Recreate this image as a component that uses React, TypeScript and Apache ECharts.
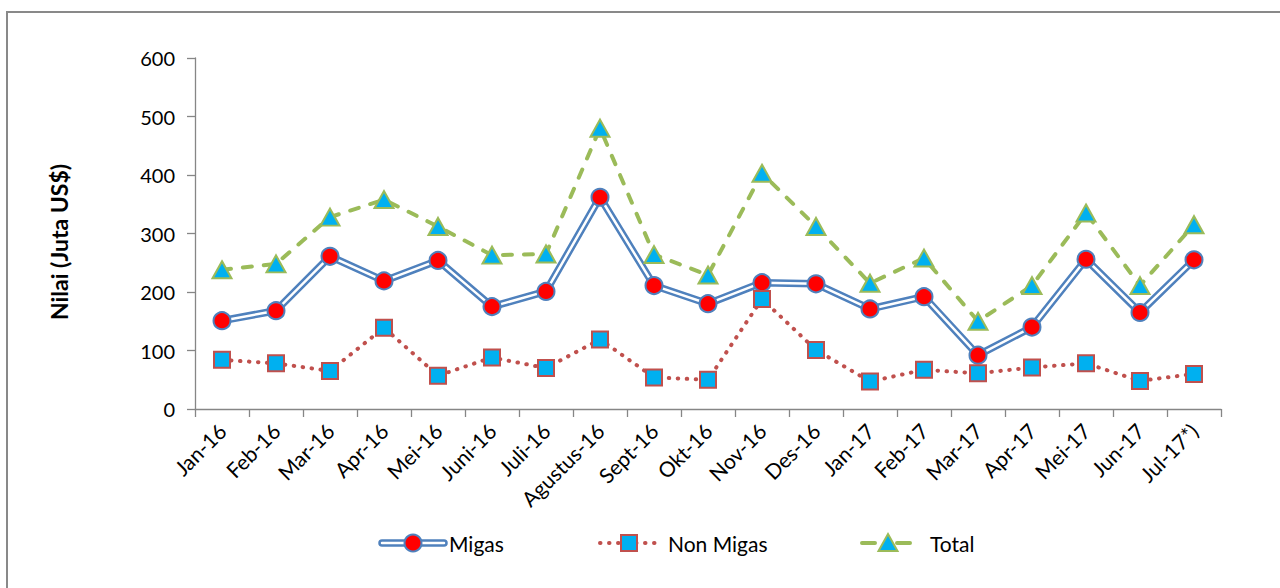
import React, { useEffect, useRef } from "react";
import * as echarts from "echarts";

const categories = [
  "Jan-16", "Feb-16", "Mar-16", "Apr-16", "Mei-16", "Juni-16", "Juli-16", "Agustus-16",
  "Sept-16", "Okt-16", "Nov-16", "Des-16", "Jan-17", "Feb-17", "Mar-17", "Apr-17",
  "Mei-17", "Jun-17", "Jul-17*)",
];
const migas = [151, 168, 261, 219, 254, 175, 201, 362, 211, 180, 216, 214, 171, 192, 92, 140, 256, 165, 255];
const nonMigas = [84, 78, 65, 139, 57, 88, 70, 119, 54, 50, 188, 101, 47, 67, 61, 71, 78, 48, 60];
const total = [238, 248, 328, 358, 312, 263, 265, 480, 264, 229, 403, 312, 215, 258, 150, 211, 335, 211, 315];

const yAxisName = "Nilai (Juta US$)";
const legendNames = ["Migas", "Non Migas", "Total"];

const FONT = "Lato";
const BLUE = "#4f81bd";
const RED = "#c0504d";
const GREEN = "#9bbb59";
const CYAN = "#00b0f0";
const AXIS = "#868686";

export default function App() {
  const ref = useRef<HTMLDivElement>(null);
  useEffect(() => {
    if (!ref.current) return;
    const chart = echarts.init(ref.current, undefined, { renderer: "svg" });
    const ly = 543;
    chart.setOption({
      animation: false,
      backgroundColor: "#ffffff",
      textStyle: { fontFamily: FONT },
      grid: { left: 195, right: 59, top: 58, bottom: 179, containLabel: false },
      xAxis: {
        type: "category",
        data: categories,
        boundaryGap: true,
        axisLine: { show: true, lineStyle: { color: AXIS, width: 1.3 } },
        axisTick: { show: true, length: 8, lineStyle: { color: AXIS, width: 1.3 } },
        axisLabel: { rotate: 45, margin: 18, fontSize: 21, color: "#000", fontFamily: FONT, interval: 0 },
        splitLine: { show: false },
      },
      yAxis: {
        type: "value",
        min: 0,
        max: 600,
        interval: 100,
        axisLine: { show: true, lineStyle: { color: AXIS, width: 1.3 } },
        axisTick: { show: true, inside: false, length: 8, lineStyle: { color: AXIS, width: 1.3 } },
        axisLabel: { margin: 20, fontSize: 20, color: "#000", fontFamily: FONT },
        splitLine: { show: false },
      },
      series: [
        {
          name: "MigasOuter",
          type: "line",
          data: migas,
          showSymbol: false,
          silent: true,
          lineStyle: { color: BLUE, width: 7.5 },
          z: 2,
        },
        {
          name: legendNames[0],
          type: "line",
          data: migas,
          symbol: "circle",
          symbolSize: 17,
          showAllSymbol: true,
          lineStyle: { color: "#ffffff", width: 2.5 },
          itemStyle: { color: "#ff0000", borderColor: BLUE, borderWidth: 2 },
          z: 2,
        },
        {
          name: legendNames[1],
          type: "line",
          data: nonMigas,
          symbol: "rect",
          symbolSize: 16,
          showAllSymbol: true,
          lineStyle: { color: RED, width: 4, type: [0.5, 8.5], cap: "round" },
          itemStyle: { color: CYAN, borderColor: RED, borderWidth: 2 },
          z: 3,
        },
        {
          name: legendNames[2],
          type: "line",
          data: total,
          symbol: "triangle",
          symbolSize: [19, 17],
          showAllSymbol: true,
          lineStyle: { color: GREEN, width: 4, type: [9, 12], cap: "round" },
          itemStyle: { color: CYAN, borderColor: GREEN, borderWidth: 2 },
          z: 4,
        },
      ],
      graphic: [
        {
          type: "rect",
          shape: { x: 7, y: 12, width: 1320, height: 640 },
          style: { fill: "none", stroke: "#898989", lineWidth: 2 },
          silent: true,
        },
        {
          type: "text",
          x: 59,
          y: 242,
          rotation: Math.PI / 2,
          style: {
            text: yAxisName,
            fontSize: 23,
            fontWeight: "bold",
            fontFamily: FONT,
            fill: "#000",
            textAlign: "center",
            textVerticalAlign: "middle",
          },
        },
        // Migas legend
        { type: "line", shape: { x1: 382, y1: ly, x2: 444, y2: ly }, style: { stroke: BLUE, lineWidth: 7.5, lineCap: "round" } },
        { type: "line", shape: { x1: 382, y1: ly, x2: 444, y2: ly }, style: { stroke: "#fff", lineWidth: 2.5, lineCap: "round" } },
        { type: "circle", shape: { cx: 413, cy: ly, r: 8.5 }, style: { fill: "#ff0000", stroke: BLUE, lineWidth: 2 } },
        { type: "text", x: 449, y: ly, style: { text: legendNames[0], fontSize: 21, fontFamily: FONT, fill: "#000", textVerticalAlign: "middle" } },
        // Non Migas legend
        { type: "line", shape: { x1: 600, y1: ly, x2: 656, y2: ly }, style: { stroke: RED, lineWidth: 4, lineDash: [0.5, 8.5], lineCap: "round" } },
        { type: "rect", shape: { x: 621, y: ly - 8, width: 16, height: 16 }, style: { fill: CYAN, stroke: RED, lineWidth: 2 } },
        { type: "text", x: 668, y: ly, style: { text: legendNames[1], fontSize: 21, fontFamily: FONT, fill: "#000", textVerticalAlign: "middle" } },
        // Total legend
        { type: "line", shape: { x1: 862, y1: ly, x2: 910, y2: ly }, style: { stroke: GREEN, lineWidth: 4, lineDash: [13, 22], lineCap: "round" } },
        { type: "polygon", shape: { points: [[888, ly - 9], [897.5, ly + 8], [878.5, ly + 8]] }, style: { fill: CYAN, stroke: GREEN, lineWidth: 2 } },
        { type: "text", x: 930, y: ly, style: { text: legendNames[2], fontSize: 21, fontFamily: FONT, fill: "#000", textVerticalAlign: "middle" } },
      ],
    });
    return () => chart.dispose();
  }, []);
  return (
    <div
      ref={ref}
      style={{ position: "fixed", left: 0, top: 0, width: 1280, height: 588, background: "#fff" }}
    />
  );
}
